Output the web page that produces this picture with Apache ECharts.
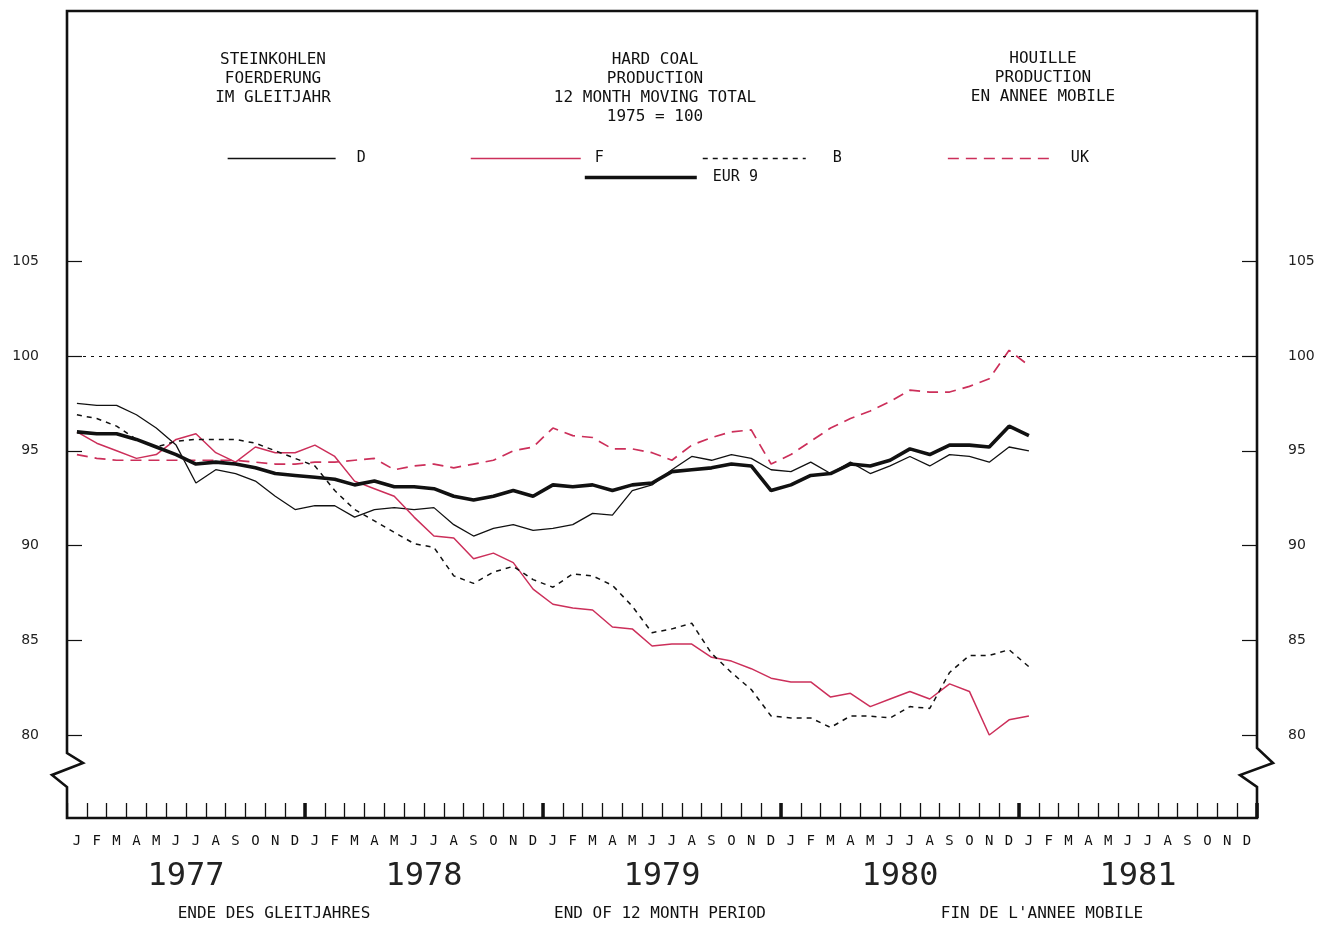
<!DOCTYPE html>
<html>
<head>
<meta charset="utf-8">
<title>Hard coal production</title>
<script src="https://cdn.jsdelivr.net/npm/echarts@6/dist/echarts.min.js"></script>
<style>
  html, body { margin: 0; padding: 0; background: #fff; }
  #chart { width: 1332px; height: 931px; }
</style>
</head>
<body>
<div id="chart"></div>
<script>
// categories
const monthLetters = ["J", "F", "M", "A", "M", "J", "J", "A", "S", "O", "N", "D"];
const years = ["1977", "1978", "1979", "1980", "1981"];
const yTicks = [80, 85, 90, 95, 100, 105];

// 12 month moving totals, 1975 = 100, Jan 1977 .. Jan 1981
const seriesD = [97.5, 97.4, 97.4, 96.9, 96.2, 95.3, 93.3, 94.0, 93.8, 93.4, 92.6, 91.9,
  92.1, 92.1, 91.5, 91.9, 92.0, 91.9, 92.0, 91.1, 90.5, 90.9, 91.1, 90.8,
  90.9, 91.1, 91.7, 91.6, 92.9, 93.2, 94.0, 94.7, 94.5, 94.8, 94.6, 94.0,
  93.9, 94.4, 93.8, 94.4, 93.8, 94.2, 94.7, 94.2, 94.8, 94.7, 94.4, 95.2,
  95.0];
const seriesF = [96.0, 95.4, 95.0, 94.6, 94.8, 95.6, 95.9, 94.9, 94.4, 95.2, 94.9, 94.9,
  95.3, 94.7, 93.4, 93.0, 92.6, 91.5, 90.5, 90.4, 89.3, 89.6, 89.1, 87.7,
  86.9, 86.7, 86.6, 85.7, 85.6, 84.7, 84.8, 84.8, 84.1, 83.9, 83.5, 83.0,
  82.8, 82.8, 82.0, 82.2, 81.5, 81.9, 82.3, 81.9, 82.7, 82.3, 80.0, 80.8,
  81.0];
const seriesB = [96.9, 96.7, 96.3, 95.6, 95.2, 95.5, 95.6, 95.6, 95.6, 95.4, 95.0, 94.6,
  94.2, 92.9, 91.9, 91.3, 90.7, 90.1, 89.9, 88.4, 88.0, 88.6, 88.9, 88.2,
  87.8, 88.5, 88.4, 87.9, 86.8, 85.4, 85.6, 85.9, 84.3, 83.3, 82.4, 81.0,
  80.9, 80.9, 80.4, 81.0, 81.0, 80.9, 81.5, 81.4, 83.3, 84.2, 84.2, 84.5,
  83.6];
const seriesUK = [94.8, 94.6, 94.5, 94.5, 94.5, 94.5, 94.5, 94.5, 94.5, 94.4, 94.3, 94.3,
  94.4, 94.4, 94.5, 94.6, 94.0, 94.2, 94.3, 94.1, 94.3, 94.5, 95.0, 95.2,
  96.2, 95.8, 95.7, 95.1, 95.1, 94.9, 94.5, 95.3, 95.7, 96.0, 96.1, 94.3,
  94.8, 95.5, 96.2, 96.7, 97.1, 97.6, 98.2, 98.1, 98.1, 98.4, 98.8, 100.3,
  99.5];
const seriesEUR = [96.0, 95.9, 95.9, 95.6, 95.2, 94.8, 94.3, 94.4, 94.3, 94.1, 93.8, 93.7,
  93.6, 93.5, 93.2, 93.4, 93.1, 93.1, 93.0, 92.6, 92.4, 92.6, 92.9, 92.6,
  93.2, 93.1, 93.2, 92.9, 93.2, 93.3, 93.9, 94.0, 94.1, 94.3, 94.2, 92.9,
  93.2, 93.7, 93.8, 94.3, 94.2, 94.5, 95.1, 94.8, 95.3, 95.3, 95.2, 96.3,
  95.8];

const monthCats = [];
years.forEach(y => monthLetters.forEach((m, i) => monthCats.push(y + "-" + (i + 1) + "-" + m)));

const L = 67, R = 1257, T = 11, B = 818;
const mono = '"DejaVu Sans Mono", "Liberation Mono", monospace';
const red = "#cc2f5a";
const ink = "#111";

function text(str, x, y, size) {
  return {
    type: "text", x: x, y: y, silent: true,
    style: { text: str, font: (size || 16) + "px " + mono, fill: ink, align: "center", verticalAlign: "middle" }
  };
}

// frame with axis breaks
const frame = [
  [L, B], [L, 787], [L - 15, 775], [L + 16, 763], [L, 753], [L, T],
  [R, T], [R, 748], [R + 16, 763], [R - 17, 775], [R, 787], [R, B]
];

let myChart = echarts.init(document.getElementById("chart"));
const yAxisBase = {
  type: "value",
  min: 75.62,
  max: 118.21,
  splitLine: { show: false },
  axisLine: { show: false },
  axisTick: { show: true, inside: true, length: 15, customValues: yTicks, lineStyle: { color: ink, width: 1.2 } },
  axisLabel: { customValues: yTicks, color: "#222", fontFamily: '"DejaVu Sans", sans-serif', fontSize: 14 }
};

function legendItem(name, left, top, width, pad, lineWidth) {
  return {
    data: [name], left: left, top: top, itemWidth: width, itemHeight: 14,
    selectedMode: false,
    itemStyle: { opacity: 0 },
    lineStyle: { width: lineWidth },
    textStyle: { color: ink, fontFamily: mono, fontSize: 15, padding: [0, 0, 0, pad] }
  };
}

let option = {
  animation: false,
  backgroundColor: "#fff",
  grid: { left: L, right: 1332 - R, top: T, bottom: 931 - B },
  legend: [
    legendItem("D", 222, 146, 108, 16, 1.3),
    legendItem("F", 465, 146, 110, 9, 1.5),
    legendItem("B", 697, 146, 103, 22, 1.5),
    legendItem("UK", 942, 146, 108, 10, 1.7),
    legendItem("EUR 9", 578, 165, 112, 11, 3.6)
  ],
  xAxis: [
    {
      type: "category", data: monthCats, position: "bottom", boundaryGap: true,
      axisLine: { show: false },
      axisTick: { show: true, inside: true, length: 15, interval: 0, lineStyle: { color: ink, width: 1.3 } },
      axisLabel: { interval: 0, margin: 16, color: ink, fontFamily: mono, fontSize: 14, formatter: v => v.split("-")[2] }
    },
    {
      type: "category", data: monthCats, position: "bottom", boundaryGap: true,
      axisLine: { show: false },
      axisTick: { show: true, inside: true, length: 15, interval: (i) => i > 0 && i % 12 === 0, lineStyle: { color: ink, width: 3.5 } },
      axisLabel: { show: false }
    },
    {
      type: "category", data: years, position: "bottom", boundaryGap: true,
      axisLine: { show: false }, axisTick: { show: false },
      axisLabel: { margin: 43, color: "#222", fontFamily: mono, fontSize: 32 }
    }
  ],
  yAxis: [
    Object.assign({}, yAxisBase, { position: "left", axisLabel: Object.assign({}, yAxisBase.axisLabel, { margin: 28 }) }),
    Object.assign({}, yAxisBase, { position: "right", axisLabel: Object.assign({}, yAxisBase.axisLabel, { margin: 31 }) })
  ],
  series: [
    {
      name: "D", type: "line", data: seriesD, symbol: "none", color: ink,
      lineStyle: { color: ink, width: 1.3 }
    },
    {
      name: "F", type: "line", data: seriesF, symbol: "none", color: red,
      lineStyle: { color: red, width: 1.5 }
    },
    {
      name: "B", type: "line", data: seriesB, symbol: "none", color: ink,
      lineStyle: { color: ink, width: 1.5, type: [5, 5] }
    },
    {
      name: "UK", type: "line", data: seriesUK, symbol: "none", color: red,
      lineStyle: { color: red, width: 1.7, type: [11, 7] }
    },
    {
      name: "EUR 9", type: "line", data: seriesEUR, symbol: "none", color: ink,
      lineStyle: { color: ink, width: 3.6 },
      markLine: {
        silent: true, symbol: "none", label: { show: false },
        lineStyle: { color: ink, width: 1.2, type: [3, 5] },
        data: [{ yAxis: 100 }]
      }
    }
  ],
  graphic: [
    { type: "polygon", silent: true, shape: { points: frame }, style: { fill: "none", stroke: ink, lineWidth: 2.6 } },
    text("STEINKOHLEN", 273, 60), text("FOERDERUNG", 273, 79), text("IM GLEITJAHR", 273, 98),
    text("HARD COAL", 655, 60), text("PRODUCTION", 655, 79), text("12 MONTH MOVING TOTAL", 655, 98), text("1975 = 100", 655, 117),
    text("HOUILLE", 1043, 59), text("PRODUCTION", 1043, 78), text("EN ANNEE MOBILE", 1043, 97),
    text("ENDE DES GLEITJAHRES", 274, 914), text("END OF 12 MONTH PERIOD", 660, 914), text("FIN DE L'ANNEE MOBILE", 1042, 914)
  ]
};
myChart.setOption(option);
window.onresize = function() {
  myChart.resize();
};
</script>
</body>
</html>
